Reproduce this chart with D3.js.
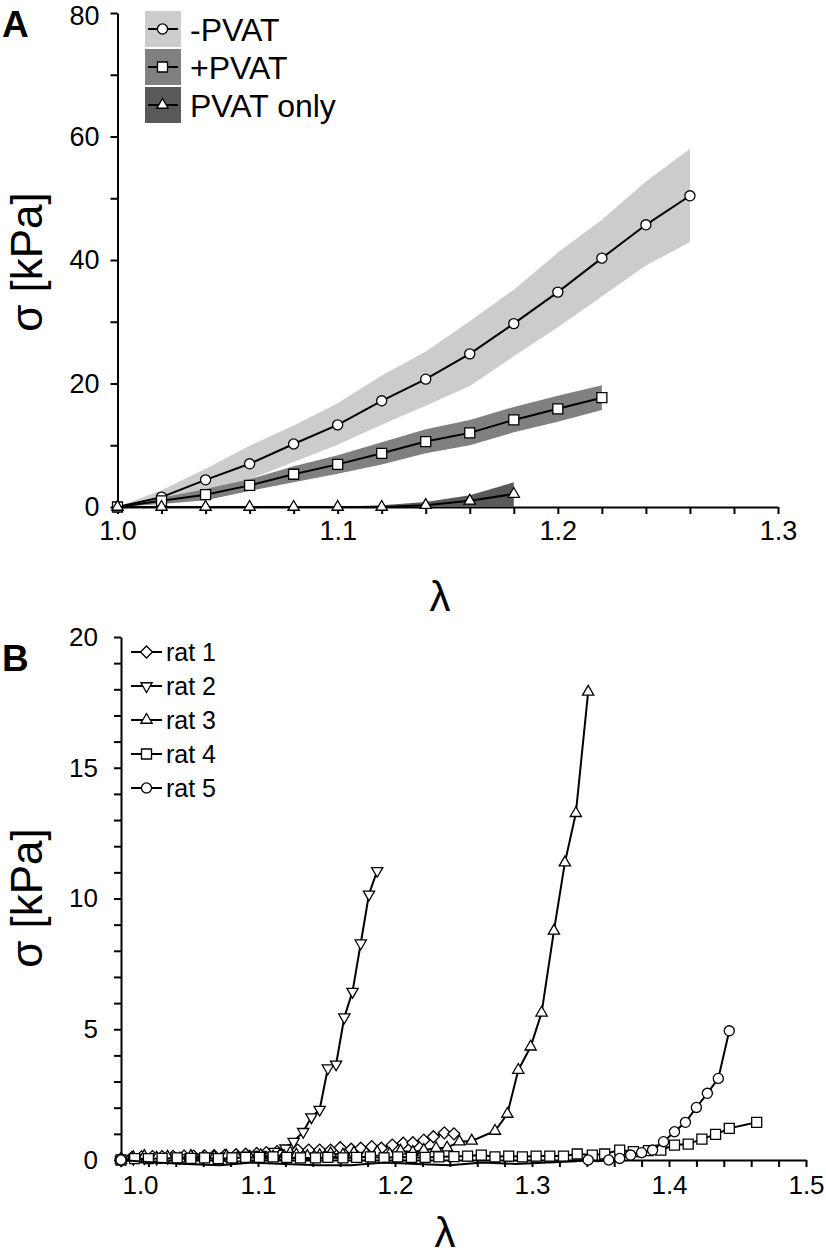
<!DOCTYPE html>
<html>
<head>
<meta charset="utf-8">
<title>stress-stretch</title>
<script src="https://d3js.org/d3.v7.min.js"></script>
<style>
  body { margin: 0; background: #fff; }
  text { font-family: "Liberation Sans", Arial, sans-serif; fill: #000; }
</style>
</head>
<body>
<div id="chart"></div>
<script>
// ---- panel A: mean stress with SD band ----
var lamA = [1.00, 1.02, 1.04, 1.06, 1.08, 1.10, 1.12, 1.14, 1.16, 1.18, 1.20, 1.22, 1.24, 1.26];
var noPvatMean = [0, 1.6, 4.4, 7.0, 10.2, 13.3, 17.2, 20.7, 24.8, 29.7, 34.8, 40.3, 45.7, 50.4];
var noPvatLo   = [0, 0.6, 2.6, 4.5, 7.3, 10.1, 13.3, 16.4, 19.6, 24.4, 29.1, 34.1, 39.1, 42.9];
var noPvatHi   = [0, 2.7, 6.2, 9.9, 13.2, 16.8, 21.3, 25.2, 30.1, 35.2, 41.2, 46.5, 52.7, 58.0];
var pvatMean = [0, 1.0, 2.0, 3.5, 5.3, 6.9, 8.7, 10.6, 12.0, 14.1, 15.9, 17.7];
var pvatLo   = [0, 0.5, 1.1, 2.6, 4.0, 5.4, 6.9, 8.7, 10.0, 12.1, 13.8, 15.7];
var pvatHi   = [0, 1.5, 2.9, 4.5, 6.6, 8.4, 10.5, 12.6, 14.1, 16.2, 18.0, 19.7];
var onlyMean = [0, 0, 0, 0, 0, 0, 0, 0.3, 1.0, 2.1];
var onlyLo   = [0, 0, 0, 0, 0, 0, 0, 0, 0, 0];
var onlyHi   = [0, 0, 0, 0, 0, 0.05, 0.3, 0.8, 1.9, 4.0];
var seriesA = ["-PVAT", "+PVAT", "PVAT only"];
var ticksA_x = [1.0, 1.1, 1.2, 1.3];
var ticksA_y = [0, 20, 40, 60, 80];

// ---- panel B: individual rats ----
var rat1L = [1.000, 1.008, 1.015, 1.023, 1.030, 1.038, 1.046, 1.053, 1.061, 1.068, 1.076, 1.084, 1.091, 1.099, 1.106, 1.114, 1.122, 1.129, 1.137, 1.145, 1.153, 1.160, 1.168, 1.175, 1.183, 1.190, 1.198, 1.206, 1.213, 1.221, 1.228, 1.236, 1.243];
var rat1S = [0.05, 0.10, 0.12, 0.13, 0.13, 0.14, 0.15, 0.15, 0.16, 0.17, 0.18, 0.20, 0.22, 0.25, 0.28, 0.32, 0.36, 0.38, 0.38, 0.38, 0.38, 0.47, 0.41, 0.45, 0.51, 0.45, 0.57, 0.64, 0.66, 0.76, 0.89, 1.04, 1.00];
var rat2L = [1.000, 1.009, 1.017, 1.026, 1.034, 1.043, 1.051, 1.060, 1.068, 1.077, 1.085, 1.094, 1.102, 1.112, 1.120, 1.126, 1.133, 1.139, 1.145, 1.151, 1.157, 1.163, 1.169, 1.175, 1.181, 1.187];
var rat2S = [0.00, 0.05, 0.08, 0.06, 0.10, 0.08, 0.12, 0.10, 0.12, 0.15, 0.14, 0.18, 0.20, 0.32, 0.45, 0.70, 1.08, 1.64, 1.93, 3.51, 3.66, 5.46, 6.44, 8.29, 10.16, 11.06];
var rat3L = [1.000, 1.009, 1.017, 1.026, 1.034, 1.043, 1.051, 1.060, 1.068, 1.077, 1.085, 1.094, 1.102, 1.111, 1.119, 1.128, 1.136, 1.145, 1.153, 1.162, 1.170, 1.179, 1.187, 1.196, 1.204, 1.213, 1.221, 1.230, 1.238, 1.247, 1.256, 1.273, 1.282, 1.290, 1.299, 1.307, 1.316, 1.324, 1.332, 1.341];
var rat3S = [0.00, 0.10, 0.15, 0.08, 0.12, 0.05, 0.15, 0.10, 0.12, 0.15, 0.08, 0.12, 0.18, 0.12, 0.15, 0.20, 0.15, 0.18, 0.25, 0.20, 0.28, 0.25, 0.30, 0.22, 0.35, 0.30, 0.38, 0.45, 0.47, 0.70, 0.73, 1.11, 1.76, 3.44, 4.33, 5.63, 8.76, 11.37, 13.26, 17.90];
var rat4L = [1.000, 1.010, 1.020, 1.030, 1.041, 1.051, 1.061, 1.071, 1.081, 1.091, 1.101, 1.111, 1.121, 1.131, 1.142, 1.151, 1.162, 1.172, 1.182, 1.192, 1.202, 1.212, 1.222, 1.232, 1.243, 1.253, 1.263, 1.273, 1.283, 1.293, 1.303, 1.313, 1.323, 1.333, 1.344, 1.353, 1.364, 1.374, 1.385, 1.394, 1.404, 1.414, 1.424, 1.434, 1.444, 1.464];
var rat4S = [0.00, 0.05, 0.05, 0.06, 0.08, 0.06, 0.08, 0.05, 0.08, 0.10, 0.10, 0.12, 0.10, 0.08, 0.08, 0.10, 0.08, 0.10, 0.12, 0.08, 0.12, 0.10, 0.10, 0.12, 0.13, 0.15, 0.19, 0.12, 0.15, 0.12, 0.15, 0.15, 0.15, 0.23, 0.19, 0.23, 0.38, 0.32, 0.36, 0.38, 0.57, 0.61, 0.80, 0.98, 1.21, 1.44];
var rat5L = [1.000, 1.024, 1.048, 1.072, 1.096, 1.120, 1.144, 1.168, 1.192, 1.216, 1.240, 1.264, 1.288, 1.312, 1.332, 1.341, 1.348, 1.356, 1.364, 1.372, 1.380, 1.388, 1.396, 1.404, 1.412, 1.420, 1.428, 1.436, 1.444];
var rat5S = [0.00, -0.10, -0.15, -0.20, -0.10, -0.15, -0.20, -0.20, -0.10, -0.15, -0.20, -0.10, -0.15, -0.10, -0.05, 0.00, -0.05, 0.00, 0.06, 0.19, 0.28, 0.38, 0.70, 1.08, 1.44, 2.01, 2.55, 3.12, 4.94];
var ratNames = ["rat 1", "rat 2", "rat 3", "rat 4", "rat 5"];
var ticksB_x = [1.0, 1.1, 1.2, 1.3, 1.4, 1.5];
var ticksB_y = [0, 5, 10, 15, 20];

var svg = d3.select("#chart").append("svg")
    .attr("width", 826)
    .attr("height", 1256);

// marker shapes
var shapes = {
  circle:   { type: d3.symbolCircle, size: 80, rot: 0 },
  square:   { type: d3.symbolSquare, size: 100, rot: 0 },
  triUp:    { type: d3.symbolTriangle, size: 55, rot: 0 },
  triDown:  { type: d3.symbolTriangle, size: 55, rot: 180 },
  diamond:  { type: d3.symbolSquare, size: 72, rot: 45 }
};

function drawMarkers(g, pts, shape) {
  var s = shapes[shape];
  g.selectAll(null)
    .data(pts)
    .enter()
    .append("path")
      .attr("d", d3.symbol().type(s.type).size(s.size))
      .attr("transform", function(d) { return "translate(" + d[0] + "," + d[1] + ") rotate(" + s.rot + ")"; })
      .attr("fill", "#fff")
      .attr("stroke", "#000")
      .attr("stroke-width", 1.3);
}

function styleAxis(g, fs) {
  g.select(".domain").attr("stroke", "#000").attr("stroke-width", 2);
  g.selectAll(".tick line").attr("stroke", "#000").attr("stroke-width", 2);
  g.selectAll(".tick text").style("font-size", fs + "px").attr("fill", "#000");
}

function isMajor(v, list) {
  return list.some(function(t) { return Math.abs(t - v) < 1e-6; });
}

// ================= panel A =================
var xA = d3.scaleLinear().domain([1.0, 1.3]).range([117.5, 778]);
var yA = d3.scaleLinear().domain([0, 80]).range([507, 13]);

var minorAx = d3.range(0, 16).map(function(i) { return 1 + i * 0.02; });
var minorAy = d3.range(0, 9).map(function(i) { return i * 10; });

var axA = svg.append("g")
    .attr("transform", "translate(0,507)")
    .call(d3.axisBottom(xA).tickValues(minorAx).tickSize(7).tickSizeOuter(0).tickPadding(7)
      .tickFormat(function(d) { return isMajor(d, ticksA_x) ? d3.format(".1f")(d) : ""; }));
styleAxis(axA, 27);

var ayA = svg.append("g")
    .attr("transform", "translate(117.5,0)")
    .call(d3.axisLeft(yA).tickValues(minorAy).tickSize(7).tickSizeOuter(0).tickPadding(11)
      .tickFormat(function(d) { return isMajor(d, ticksA_y) ? d : ""; }));
styleAxis(ayA, 27);
// top label kept inside the page
ayA.selectAll(".tick text").filter(function(d) { return d === 80; }).attr("dy", "0.36em").attr("y", 2);

var bandColors = ["#cccccc", "#808080", "#595959"];
var bandsA = [
  { lo: noPvatLo, hi: noPvatHi, mean: noPvatMean, shape: "circle" },
  { lo: pvatLo, hi: pvatHi, mean: pvatMean, shape: "square" },
  { lo: onlyLo, hi: onlyHi, mean: onlyMean, shape: "triUp" }
];

var areaA = d3.area()
    .x(function(d) { return xA(d.x); })
    .y0(function(d) { return yA(d.lo); })
    .y1(function(d) { return yA(d.hi); });
var lineA = d3.line()
    .x(function(d) { return xA(d.x); })
    .y(function(d) { return yA(d.y); });

bandsA.forEach(function(b, i) {
  var rows = b.mean.map(function(m, k) { return { x: lamA[k], lo: b.lo[k], hi: b.hi[k] }; });
  svg.append("path").datum(rows).attr("d", areaA).attr("fill", bandColors[i]);
});

bandsA.forEach(function(b) {
  var pts = b.mean.map(function(m, k) { return { x: lamA[k], y: m }; });
  svg.append("path").datum(pts).attr("d", lineA)
    .attr("fill", "none").attr("stroke", "#000").attr("stroke-width", 2);
  drawMarkers(svg.append("g"), pts.map(function(p) { return [xA(p.x), yA(p.y)]; }), b.shape);
});

// legend A
var legA = svg.append("g");
seriesA.forEach(function(name, i) {
  var yy = 11 + i * 38;
  legA.append("rect").attr("x", 145).attr("y", yy).attr("width", 36).attr("height", 36).attr("fill", bandColors[i]);
  legA.append("line").attr("x1", 148).attr("x2", 178).attr("y1", yy + 18).attr("y2", yy + 18)
    .attr("stroke", "#000").attr("stroke-width", 2);
  drawMarkers(legA.append("g"), [[162.5, yy + 18]], bandsA[i].shape);
  legA.append("text").attr("x", 190).attr("y", yy + 30).style("font-size", "32px").text(name);
});

svg.append("text").attr("x", 2).attr("y", 37).style("font-size", "37px").style("font-weight", "bold").text("A");
svg.append("text").attr("transform", "translate(42,262) rotate(-90)").attr("text-anchor", "middle")
  .style("font-size", "44px").text("σ [kPa]");
svg.append("text").attr("x", 440).attr("y", 611).attr("text-anchor", "middle")
  .style("font-size", "42px").text("λ");

// ================= panel B =================
var xB = d3.scaleLinear().domain([1.0, 1.5]).range([121, 806]);
var yB = d3.scaleLinear().domain([0, 20]).range([1160, 637]);

var minorBx = d3.range(0, 26).map(function(i) { return 1 + i * 0.02; });
var minorBy = d3.range(0, 21);

var axB = svg.append("g")
    .attr("transform", "translate(0,1160)")
    .call(d3.axisBottom(xB).tickValues(minorBx).tickSize(7).tickSizeOuter(0).tickPadding(9)
      .tickFormat(function(d) { return isMajor(d, ticksB_x) ? d3.format(".1f")(d) : ""; }));
styleAxis(axB, 26);
// first label sits clear of the y axis
axB.selectAll(".tick text").filter(function(d) { return Math.abs(d - 1.0) < 1e-6; }).attr("dx", 19);

var ayB = svg.append("g")
    .attr("transform", "translate(121,0)")
    .call(d3.axisLeft(yB).tickValues(minorBy).tickSize(7).tickSizeOuter(0).tickPadding(16)
      .tickFormat(function(d) { return isMajor(d, ticksB_y) ? d : ""; }));
styleAxis(ayB, 26);

var rats = [
  { L: rat1L, S: rat1S, shape: "diamond" },
  { L: rat2L, S: rat2S, shape: "triDown" },
  { L: rat3L, S: rat3S, shape: "triUp" },
  { L: rat4L, S: rat4S, shape: "square" },
  { L: rat5L, S: rat5S, shape: "circle" }
];

var lineB = d3.line()
    .x(function(d) { return xB(d[0]); })
    .y(function(d) { return yB(d[1]); });

rats.forEach(function(r) {
  var pts = r.L.map(function(l, k) { return [l, r.S[k]]; });
  svg.append("path").datum(pts).attr("d", lineB)
    .attr("fill", "none").attr("stroke", "#000").attr("stroke-width", 2);
  // markers below the axis are not shown
  var vis = pts.filter(function(p) { return p[1] >= 0; });
  drawMarkers(svg.append("g"), vis.map(function(p) { return [xB(p[0]), yB(p[1])]; }), r.shape);
});

// legend B
var legB = svg.append("g");
ratNames.forEach(function(name, i) {
  var yy = 652 + i * 34;
  legB.append("line").attr("x1", 131).attr("x2", 162).attr("y1", yy).attr("y2", yy)
    .attr("stroke", "#000").attr("stroke-width", 2);
  drawMarkers(legB.append("g"), [[146.5, yy]], rats[i].shape);
  legB.append("text").attr("x", 166).attr("y", yy + 9).style("font-size", "25px").text(name);
});

svg.append("text").attr("x", 2).attr("y", 671).style("font-size", "37px").style("font-weight", "bold").text("B");
svg.append("text").attr("transform", "translate(42,898) rotate(-90)").attr("text-anchor", "middle")
  .style("font-size", "44px").text("σ [kPa]");
svg.append("text").attr("x", 445).attr("y", 1247).attr("text-anchor", "middle")
  .style("font-size", "42px").text("λ");
</script>
</body>
</html>
